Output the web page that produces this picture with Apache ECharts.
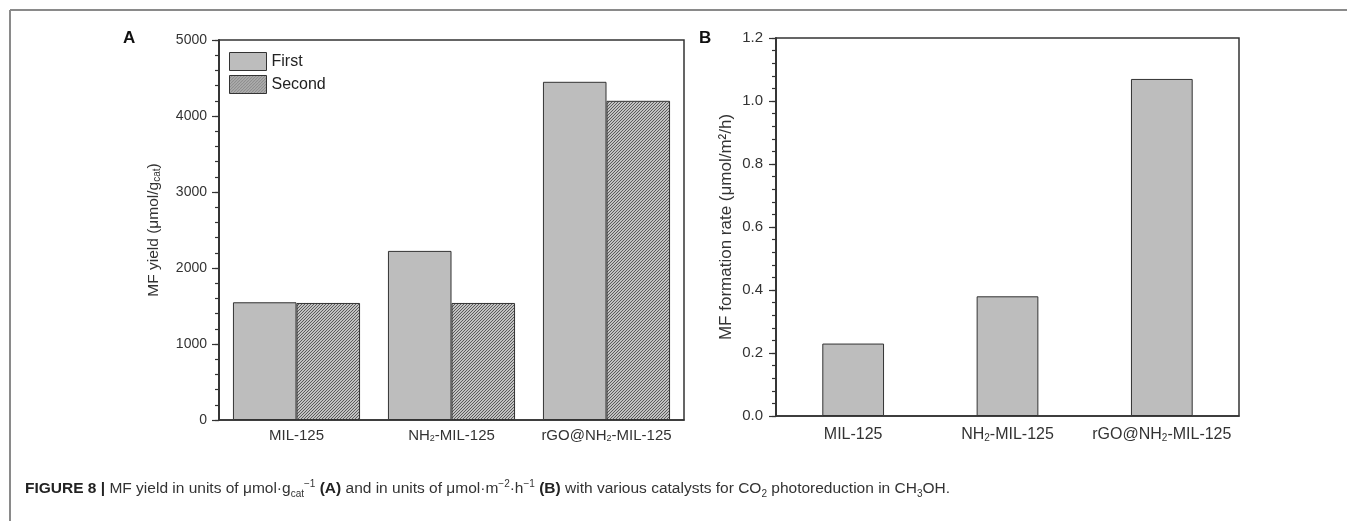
<!DOCTYPE html>
<html>
<head>
<meta charset="utf-8">
<script src="https://cdn.jsdelivr.net/npm/echarts@6/dist/echarts.min.js"></script>
<style>
html, body { margin: 0; padding: 0; background: #fff; }
#chart { width: 1347px; height: 521px; }
</style>
</head>
<body>
<div id="chart"></div>
<script>
// data
var catalysts = ['MIL-125', 'NH2-MIL-125', 'rGO@NH2-MIL-125'];
var firstRun = [1549, 2225, 4450];
var secondRun = [1540, 1540, 4200];
var formationRate = [0.23, 0.38, 1.07];
var yieldAxis = [0, 5000, 1000, 200];   // min, max, major step, minor step
var rateAxis = [0, 1.2, 0.2, 0.04];

var FONT = 'Liberation Sans, Arial, sans-serif';
var INK = '#333';

// diagonal hatch for the second run
function hatch() {
    var c = document.createElement('canvas');
    c.width = 6; c.height = 6;
    var g = c.getContext('2d');
    g.fillStyle = '#c2c2c2';
    g.fillRect(0, 0, 6, 6);
    g.strokeStyle = '#505050';
    g.lineWidth = 0.9;
    for (var k = 0; k <= 12; k += 3) {
        g.beginPath();
        g.moveTo(0, k);
        g.lineTo(k, 0);
        g.stroke();
    }
    return { image: c, repeat: 'repeat' };
}

function catLabel(v) {
    return v.replace(/NH2/g, 'NH{s|2}');
}

// two value axes per panel: one carries the short minor ticks, the other labels + long ticks
function minorAxis(grid, range) {
    return {
        type: 'value', gridIndex: grid, position: 'left',
        min: range[0], max: range[1], interval: range[3],
        axisLine: { show: true, lineStyle: { color: INK, width: 1.5 } },
        axisTick: { show: true, length: 4, lineStyle: { color: INK, width: 1.2 } },
        axisLabel: { show: false },
        splitLine: { show: false }
    };
}

function chart() {
    var dom = document.getElementById('chart');
    var myChart = echarts.init(dom);
    var option = {
        animation: false,
        textStyle: { fontFamily: FONT, color: INK },
        grid: [
            { left: 219, top: 40, width: 465, height: 380, show: true, borderColor: INK, borderWidth: 1.5 },
            { left: 776, top: 38, width: 463, height: 378, show: true, borderColor: INK, borderWidth: 1.5 }
        ],
        legend: {
            left: 229, top: 52, padding: 0,
            orient: 'vertical',
            itemWidth: 37, itemHeight: 18, itemGap: 4,
            icon: 'rect',
            itemStyle: { borderColor: INK, borderWidth: 1 },
            textStyle: { fontSize: 16, color: '#222', fontFamily: FONT },
            data: ['First', 'Second']
        },
        xAxis: [
            {
                type: 'category', gridIndex: 0, data: catalysts,
                axisTick: { show: false },
                axisLine: { lineStyle: { color: INK, width: 1.5 } },
                axisLabel: {
                    interval: 0, fontSize: 15, color: INK, margin: 8, formatter: catLabel,
                    rich: { s: { fontSize: 9, verticalAlign: 'bottom', lineHeight: 6, color: INK } }
                }
            },
            {
                type: 'category', gridIndex: 1, data: catalysts,
                axisTick: { show: false },
                axisLine: { lineStyle: { color: INK, width: 1.5 } },
                axisLabel: {
                    interval: 0, fontSize: 16, color: INK, margin: 11, formatter: catLabel,
                    rich: { s: { fontSize: 10, verticalAlign: 'bottom', lineHeight: 6, color: INK } }
                }
            }
        ],
        yAxis: [
            minorAxis(0, yieldAxis),
            {
                type: 'value', gridIndex: 0, position: 'left',
                min: yieldAxis[0], max: yieldAxis[1], interval: yieldAxis[2],
                name: 'MF yield (μmol/g{s|cat})',
                nameLocation: 'middle', nameGap: 57,
                nameTextStyle: {
                    fontSize: 15.5, color: INK,
                    rich: { s: { fontSize: 10, verticalAlign: 'bottom', lineHeight: 8, color: INK } }
                },
                axisLine: { show: true, lineStyle: { color: INK, width: 1.5 } },
                axisTick: { show: true, length: 7, lineStyle: { color: INK, width: 1.2 } },
                splitLine: { show: false },
                axisLabel: { fontSize: 14, color: INK, margin: 12, formatter: function (v) { return String(v); } }
            },
            minorAxis(1, rateAxis),
            {
                type: 'value', gridIndex: 1, position: 'left',
                min: rateAxis[0], max: rateAxis[1], interval: rateAxis[2],
                name: 'MF formation rate (μmol/m²/h)',
                nameLocation: 'middle', nameGap: 41,
                nameTextStyle: { fontSize: 17, color: INK },
                axisLine: { show: true, lineStyle: { color: INK, width: 1.5 } },
                axisTick: { show: true, length: 7, lineStyle: { color: INK, width: 1.2 } },
                splitLine: { show: false },
                axisLabel: {
                    fontSize: 15, color: INK, margin: 13,
                    formatter: function (v) { return v.toFixed(1); }
                }
            }
        ],
        series: [
            {
                name: 'First', type: 'bar', xAxisIndex: 0, yAxisIndex: 1,
                data: firstRun, barGap: '0%', barCategoryGap: '18%',
                itemStyle: { color: '#bdbdbd', borderColor: INK, borderWidth: 1 }
            },
            {
                name: 'Second', type: 'bar', xAxisIndex: 0, yAxisIndex: 1,
                data: secondRun, barGap: '0%', barCategoryGap: '18%',
                itemStyle: { color: hatch(), borderColor: INK, borderWidth: 1 }
            },
            {
                name: 'Rate', type: 'bar', xAxisIndex: 1, yAxisIndex: 3,
                data: formationRate, barCategoryGap: '60%',
                itemStyle: { color: '#bdbdbd', borderColor: INK, borderWidth: 1 }
            }
        ],
        graphic: [
            { type: 'line', shape: { x1: 10, y1: 10, x2: 1347, y2: 10 }, style: { stroke: '#8a8a8a', lineWidth: 2 } },
            { type: 'line', shape: { x1: 10, y1: 10, x2: 10, y2: 521 }, style: { stroke: '#8a8a8a', lineWidth: 2 } },
            { type: 'text', left: 123, top: 30, style: { text: 'A', fontSize: 17, fontWeight: 'bold', fontFamily: FONT, fill: '#111' } },
            { type: 'text', left: 699, top: 30, style: { text: 'B', fontSize: 17, fontWeight: 'bold', fontFamily: FONT, fill: '#111' } },
            {
                type: 'text', left: 25, top: 479,
                style: {
                    text: '{b|FIGURE 8 |} MF yield in units of μmol·g{sb|cat}{sp|−1} {b|(A)} and in units of μmol·m{sp|−2}·h{sp|−1} {b|(B)} with various catalysts for CO{sb|2} photoreduction in CH{sb|3}OH.',
                    fontSize: 15.5, fontFamily: FONT, fill: '#333', lineHeight: 20,
                    rich: {
                        b: { fontSize: 15.5, fontWeight: 'bold', fill: '#222', fontFamily: FONT, lineHeight: 20 },
                        sb: { fontSize: 10, fill: '#333', fontFamily: FONT, verticalAlign: 'bottom', lineHeight: 10 },
                        sp: { fontSize: 10, fill: '#333', fontFamily: FONT, verticalAlign: 'top', lineHeight: 10 }
                    }
                }
            }
        ]
    };
    myChart.setOption(option, true);
}
chart();
</script>
</body>
</html>
